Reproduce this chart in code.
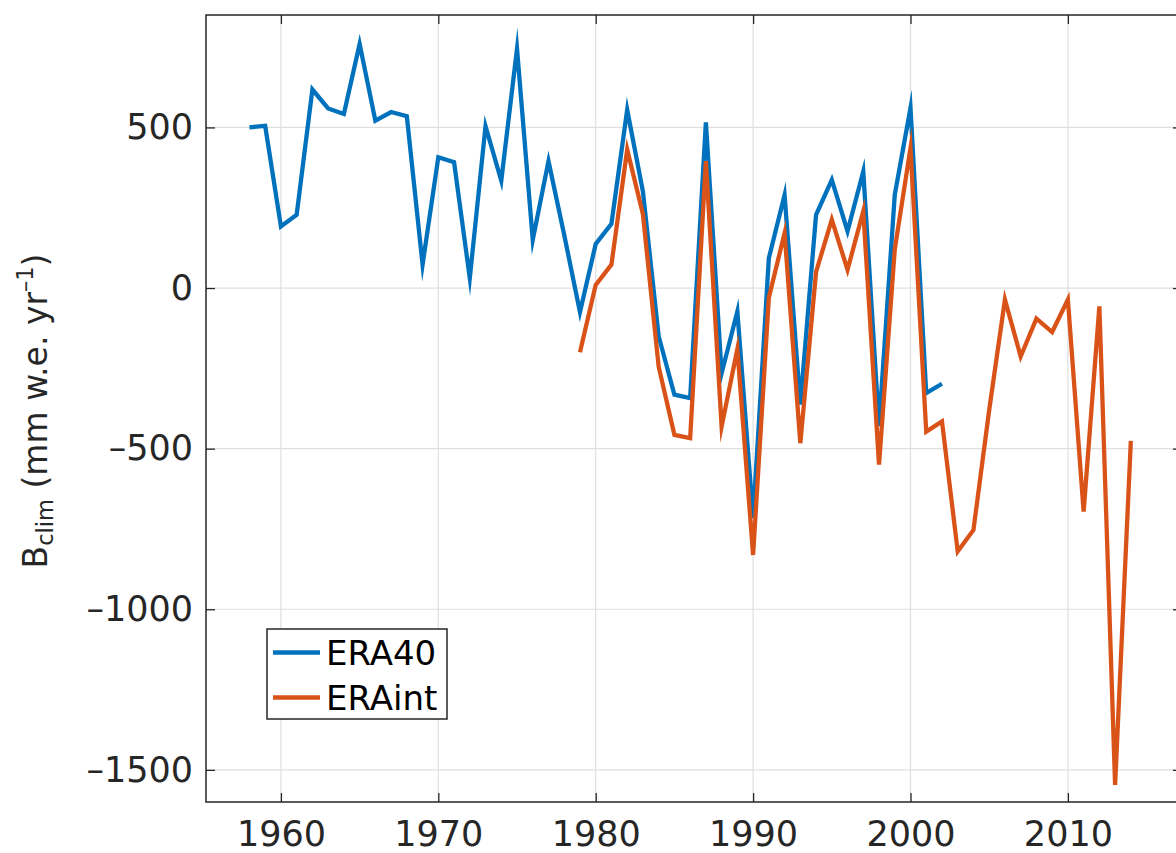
<!DOCTYPE html>
<html>
<head>
<meta charset="utf-8">
<script src="https://cdn.jsdelivr.net/npm/d3@7"></script>
<style>
  body { margin: 0; background: #fff; }
  svg { display: block; font-family: 'DejaVu Sans', sans-serif; }
</style>
</head>
<body>
<main></main>
<script>
const era40Years = [
  1958, 1959, 1960, 1961, 1962, 1963, 1964, 1965, 1966, 1967, 1968, 1969,
  1970, 1971, 1972, 1973, 1974, 1975, 1976, 1977, 1978, 1979, 1980, 1981,
  1982, 1983, 1984, 1985, 1986, 1987, 1988, 1989, 1990, 1991, 1992, 1993,
  1994, 1995, 1996, 1997, 1998, 1999, 2000, 2001, 2002,
];
const era40Values = [
  500, 505, 192, 228, 618, 559, 542, 760, 521, 548, 535, 73,
  407, 392, 31, 504, 334, 745, 150, 395, 165, -75, 137, 200,
  555, 300, -150, -332, -343, 516, -265, -73, -716, 93, 290, -363,
  228, 337, 177, 363, -430, 290, 561, -327, -298,
];

const eraintYears = [
  1979, 1980, 1981, 1982, 1983, 1984, 1985, 1986, 1987, 1988, 1989, 1990,
  1991, 1992, 1993, 1994, 1995, 1996, 1997, 1998, 1999, 2000, 2001, 2002,
  2003, 2004, 2005, 2006, 2007, 2008, 2009, 2010, 2011, 2012, 2013, 2014,
];
const eraintValues = [
  -200, 10, 73, 431, 230, -245, -457, -467, 395, -431, -190, -831,
  -30, 171, -483, 50, 213, 57, 239, -550, 120, 436, -447, -415,
  -820, -753, -380, -36, -213, -95, -137, -36, -696, -57, -1547, -476,
];

const xTicks = [1960, 1970, 1980, 1990, 2000, 2010];
const yTicks = [-1500, -1000, -500, 0, 500];
const seriesNames = ['ERA40', 'ERAint'];
const seriesColors = ['#0072bd', '#d95319'];

const dimensions = {
  width: 1176,
  height: 853,
  plot: { left: 206, right: 1182, top: 15, bottom: 802 },
};
const axisColor = '#262626';

const svg = d3
  .select('main')
  .append('svg')
  .attr('width', dimensions.width)
  .attr('height', dimensions.height);

const xScale = d3
  .scaleLinear()
  .domain([1955.24, 2017.25])
  .range([dimensions.plot.left, dimensions.plot.right]);

const yScale = d3
  .scaleLinear()
  .domain([-1600, 850])
  .range([dimensions.plot.bottom, dimensions.plot.top]);

// grid
const gridGroup = svg.append('g');
gridGroup
  .selectAll('line.vx')
  .data(xTicks)
  .join('line')
  .attr('x1', d => xScale(d))
  .attr('x2', d => xScale(d))
  .attr('y1', dimensions.plot.top)
  .attr('y2', dimensions.plot.bottom)
  .attr('stroke', '#dfdfdf')
  .attr('stroke-width', 1.2);
gridGroup
  .selectAll('line.hy')
  .data(yTicks)
  .join('line')
  .attr('x1', dimensions.plot.left)
  .attr('x2', dimensions.plot.right)
  .attr('y1', d => yScale(d))
  .attr('y2', d => yScale(d))
  .attr('stroke', '#dfdfdf')
  .attr('stroke-width', 1.2);

// series
const series = [
  era40Years.map((year, i) => ({ year, value: era40Values[i] })),
  eraintYears.map((year, i) => ({ year, value: eraintValues[i] })),
];

const lineGenerator = d3
  .line()
  .x(d => xScale(d.year))
  .y(d => yScale(d.value));

const dataGroup = svg.append('g');
series.forEach((points, index) => {
  dataGroup
    .append('path')
    .attr('fill', 'none')
    .attr('stroke', seriesColors[index])
    .attr('stroke-width', 4.3)
    .attr('stroke-miterlimit', 10)
    .attr('d', lineGenerator(points));
});

// axes, ticks inward on all four sides
const tickSize = 9;
// short dash for negatives, like the original
const formatTick = d => `${d}`.replace('-', '\u2013');

const xAxisBottom = d3
  .axisBottom(xScale)
  .tickValues(xTicks)
  .tickSize(-tickSize)
  .tickPadding(19)
  .tickFormat(d3.format('d'));
const xAxisTop = d3
  .axisTop(xScale)
  .tickValues(xTicks)
  .tickSize(-tickSize)
  .tickFormat('');
const yAxisLeft = d3
  .axisLeft(yScale)
  .tickValues(yTicks)
  .tickSize(-tickSize)
  .tickPadding(13)
  .tickFormat(formatTick);
const yAxisRight = d3
  .axisRight(yScale)
  .tickValues(yTicks)
  .tickSize(-tickSize)
  .tickFormat('');

const axisGroup = svg.append('g');
axisGroup
  .append('g')
  .attr('transform', `translate(0 ${dimensions.plot.bottom})`)
  .call(xAxisBottom);
axisGroup
  .append('g')
  .attr('transform', `translate(0 ${dimensions.plot.top})`)
  .call(xAxisTop);
axisGroup
  .append('g')
  .attr('transform', `translate(${dimensions.plot.left} 0)`)
  .call(yAxisLeft);
axisGroup
  .append('g')
  .attr('transform', `translate(${dimensions.plot.right} 0)`)
  .call(yAxisRight);

axisGroup.selectAll('path.domain').remove();
axisGroup
  .selectAll('line')
  .attr('stroke', axisColor)
  .attr('stroke-width', 1.3);
axisGroup
  .selectAll('text')
  .attr('fill', axisColor)
  .attr('font-size', 35)
  .attr('font-family', "'DejaVu Sans', sans-serif");

axisGroup
  .append('rect')
  .attr('x', dimensions.plot.left)
  .attr('y', dimensions.plot.top)
  .attr('width', dimensions.plot.right - dimensions.plot.left)
  .attr('height', dimensions.plot.bottom - dimensions.plot.top)
  .attr('fill', 'none')
  .attr('stroke', axisColor)
  .attr('stroke-width', 1.5);

// y label
const yLabel = svg
  .append('text')
  .attr('transform', 'translate(47 411) rotate(-90)')
  .attr('text-anchor', 'middle')
  .attr('fill', axisColor)
  .attr('font-size', 33);
yLabel.append('tspan').text('B');
yLabel.append('tspan').attr('font-size', 22.5).attr('dy', 6).text('clim');
yLabel.append('tspan').attr('dy', -6).text('\u00a0(mm w.e. yr');
yLabel.append('tspan').attr('font-size', 22.5).attr('dy', -14).text('\u20131');
yLabel.append('tspan').attr('dy', 14).text(')');

// legend
const legend = svg.append('g').attr('transform', 'translate(267 629)');
legend
  .append('rect')
  .attr('width', 180)
  .attr('height', 90)
  .attr('fill', '#fff')
  .attr('stroke', axisColor)
  .attr('stroke-width', 1.5);
seriesNames.forEach((name, index) => {
  const row = legend
    .append('g')
    .attr('transform', `translate(0 ${23.5 + index * 45})`);
  row
    .append('line')
    .attr('x1', 6)
    .attr('x2', 53)
    .attr('stroke', seriesColors[index])
    .attr('stroke-width', 4.3);
  row
    .append('text')
    .attr('x', 59)
    .attr('dy', '0.36em')
    .attr('fill', '#000')
    .attr('font-size', 34)
    .text(name);
});
</script>
</body>
</html>
